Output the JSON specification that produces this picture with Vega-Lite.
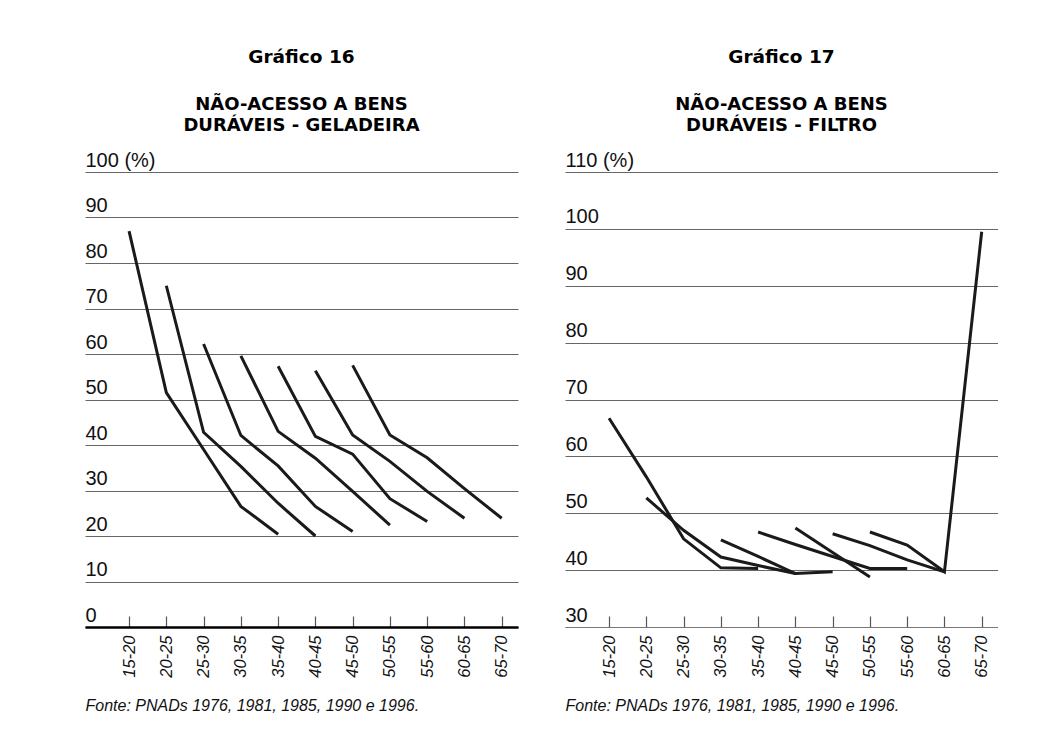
{
  "$schema": "https://vega.github.io/schema/vega-lite/v6.json",
  "background": "white",
  "padding": {"left": 85, "top": 48, "right": 0, "bottom": 0},
  "autosize": {"type": "pad"},
  "spacing": 47,
  "config": {
    "view": {"stroke": null},
    "font": "Liberation Sans",
    "title": {
      "anchor": "middle",
      "font": "DejaVu Sans",
      "fontSize": 18.5,
      "fontWeight": "bold",
      "color": "#000",
      "subtitleFont": "DejaVu Sans",
      "subtitleFontSize": 18,
      "subtitleFontWeight": "bold",
      "subtitleColor": "#000",
      "subtitlePadding": 29.5,
      "subtitleLineHeight": 21,
      "offset": 15
    },
    "axisY": {
      "title": null,
      "grid": true,
      "gridColor": "#666",
      "gridWidth": 1,
      "domain": false,
      "ticks": false,
      "labelAlign": "left",
      "labelBaseline": "alphabetic",
      "labelPadding": 0,
      "labelOffset": -6,
      "labelFontSize": 20,
      "labelColor": "#111",
      "labelBound": false,
      "labelFlush": false,
      "labelOverlap": false
    },
    "axisX": {
      "grid": false,
      "labelAngle": -90,
      "labelFontStyle": "italic",
      "labelFontSize": 16.5,
      "labelColor": "#111",
      "labelPadding": 19,
      "labelOverlap": false,
      "tickSize": -11,
      "tickColor": "#555",
      "tickWidth": 1.2,
      "titleFont": "Liberation Sans",
      "titleFontStyle": "italic",
      "titleFontWeight": "normal",
      "titleFontSize": 16,
      "titleColor": "#111",
      "titleAnchor": "start",
      "titleAlign": "left",
      "titlePadding": 20
    }
  },
  "datasets": {
    "geladeira": [
      {"coorte": "c1", "idade": "15-20", "valor": 87},
      {"coorte": "c1", "idade": "20-25", "valor": 51.5},
      {"coorte": "c1", "idade": "25-30", "valor": 39},
      {"coorte": "c1", "idade": "30-35", "valor": 26.5},
      {"coorte": "c1", "idade": "35-40", "valor": 20.4},
      {"coorte": "c2", "idade": "20-25", "valor": 75},
      {"coorte": "c2", "idade": "25-30", "valor": 42.8},
      {"coorte": "c2", "idade": "30-35", "valor": 35.3},
      {"coorte": "c2", "idade": "35-40", "valor": 27.2},
      {"coorte": "c2", "idade": "40-45", "valor": 20.0},
      {"coorte": "c3", "idade": "25-30", "valor": 62.2},
      {"coorte": "c3", "idade": "30-35", "valor": 42.1},
      {"coorte": "c3", "idade": "35-40", "valor": 35.4},
      {"coorte": "c3", "idade": "40-45", "valor": 26.5},
      {"coorte": "c3", "idade": "45-50", "valor": 21.0},
      {"coorte": "c4", "idade": "30-35", "valor": 59.6},
      {"coorte": "c4", "idade": "35-40", "valor": 43.0},
      {"coorte": "c4", "idade": "40-45", "valor": 37.1},
      {"coorte": "c4", "idade": "45-50", "valor": 29.8},
      {"coorte": "c4", "idade": "50-55", "valor": 22.4},
      {"coorte": "c5", "idade": "35-40", "valor": 57.3},
      {"coorte": "c5", "idade": "40-45", "valor": 41.9},
      {"coorte": "c5", "idade": "45-50", "valor": 38.0},
      {"coorte": "c5", "idade": "50-55", "valor": 28.2},
      {"coorte": "c5", "idade": "55-60", "valor": 23.2},
      {"coorte": "c6", "idade": "40-45", "valor": 56.3},
      {"coorte": "c6", "idade": "45-50", "valor": 42.2},
      {"coorte": "c6", "idade": "50-55", "valor": 36.4},
      {"coorte": "c6", "idade": "55-60", "valor": 29.8},
      {"coorte": "c6", "idade": "60-65", "valor": 23.9},
      {"coorte": "c7", "idade": "45-50", "valor": 57.5},
      {"coorte": "c7", "idade": "50-55", "valor": 42.2},
      {"coorte": "c7", "idade": "55-60", "valor": 37.2},
      {"coorte": "c7", "idade": "60-65", "valor": 30.4},
      {"coorte": "c7", "idade": "65-70", "valor": 23.9}
    ],
    "filtro": [
      {"coorte": "a", "idade": "15-20", "valor": 66.7},
      {"coorte": "a", "idade": "20-25", "valor": 56.4},
      {"coorte": "a", "idade": "25-30", "valor": 45.5},
      {"coorte": "a", "idade": "30-35", "valor": 40.4},
      {"coorte": "a", "idade": "35-40", "valor": 40.3},
      {"coorte": "b", "idade": "20-25", "valor": 52.7},
      {"coorte": "b", "idade": "25-30", "valor": 47.0},
      {"coorte": "b", "idade": "30-35", "valor": 42.3},
      {"coorte": "b", "idade": "35-40", "valor": 40.8},
      {"coorte": "b", "idade": "40-45", "valor": 39.4},
      {"coorte": "c", "idade": "30-35", "valor": 45.3},
      {"coorte": "c", "idade": "35-40", "valor": 42.4},
      {"coorte": "c", "idade": "40-45", "valor": 39.4},
      {"coorte": "c", "idade": "45-50", "valor": 39.7},
      {"coorte": "d", "idade": "35-40", "valor": 46.7},
      {"coorte": "d", "idade": "40-45", "valor": 44.5},
      {"coorte": "d", "idade": "45-50", "valor": 42.4},
      {"coorte": "d", "idade": "50-55", "valor": 40.3},
      {"coorte": "d", "idade": "55-60", "valor": 40.3},
      {"coorte": "e", "idade": "40-45", "valor": 47.4},
      {"coorte": "e", "idade": "45-50", "valor": 43.1},
      {"coorte": "e", "idade": "50-55", "valor": 38.8},
      {"coorte": "f", "idade": "45-50", "valor": 46.4},
      {"coorte": "f", "idade": "50-55", "valor": 44.3},
      {"coorte": "f", "idade": "55-60", "valor": 41.8},
      {"coorte": "f", "idade": "60-65", "valor": 39.7},
      {"coorte": "g", "idade": "50-55", "valor": 46.7},
      {"coorte": "g", "idade": "55-60", "valor": 44.4},
      {"coorte": "g", "idade": "60-65", "valor": 39.7},
      {"coorte": "g", "idade": "65-70", "valor": 99.5}
    ]
  },
  "hconcat": [
    {
      "width": 433,
      "height": 455,
      "data": {"name": "geladeira"},
      "title": {"text": "Gráfico 16", "subtitle": ["NÃO-ACESSO A BENS", "DURÁVEIS - GELADEIRA"]},
      "mark": {"type": "line", "color": "#1a1a1a", "strokeWidth": 3, "strokeJoin": "miter", "strokeCap": "butt"},
      "encoding": {
        "x": {
          "field": "idade",
          "type": "ordinal",
          "scale": {"domain": ["15-20", "20-25", "25-30", "30-35", "35-40", "40-45", "45-50", "50-55", "55-60", "60-65", "65-70"], "padding": 0.81, "align": 0.73},
          "axis": {"title": "Fonte: PNADs 1976, 1981, 1985, 1990 e 1996.", "domainColor": "#000", "domainWidth": 2.5}
        },
        "y": {
          "field": "valor",
          "type": "quantitative",
          "scale": {"domain": [0, 100], "nice": false, "zero": false},
          "axis": {"values": [0, 10, 20, 30, 40, 50, 60, 70, 80, 90, 100], "labelExpr": "datum.value == 100 ? '100 (%)' : datum.label"}
        },
        "detail": {"field": "coorte"}
      }
    },
    {
      "width": 433,
      "height": 455,
      "data": {"name": "filtro"},
      "title": {"text": "Gráfico 17", "subtitle": ["NÃO-ACESSO A BENS", "DURÁVEIS - FILTRO"]},
      "mark": {"type": "line", "color": "#1a1a1a", "strokeWidth": 3, "strokeJoin": "miter", "strokeCap": "butt"},
      "encoding": {
        "x": {
          "field": "idade",
          "type": "ordinal",
          "scale": {"domain": ["15-20", "20-25", "25-30", "30-35", "35-40", "40-45", "45-50", "50-55", "55-60", "60-65", "65-70"], "padding": 0.81, "align": 0.73},
          "axis": {"title": "Fonte: PNADs 1976, 1981, 1985, 1990 e 1996.", "domainColor": "#777", "domainWidth": 1}
        },
        "y": {
          "field": "valor",
          "type": "quantitative",
          "scale": {"domain": [30, 110], "nice": false, "zero": false},
          "axis": {"values": [30, 40, 50, 60, 70, 80, 90, 100, 110], "labelExpr": "datum.value == 110 ? '110 (%)' : datum.label"}
        },
        "detail": {"field": "coorte"}
      }
    }
  ]
}
